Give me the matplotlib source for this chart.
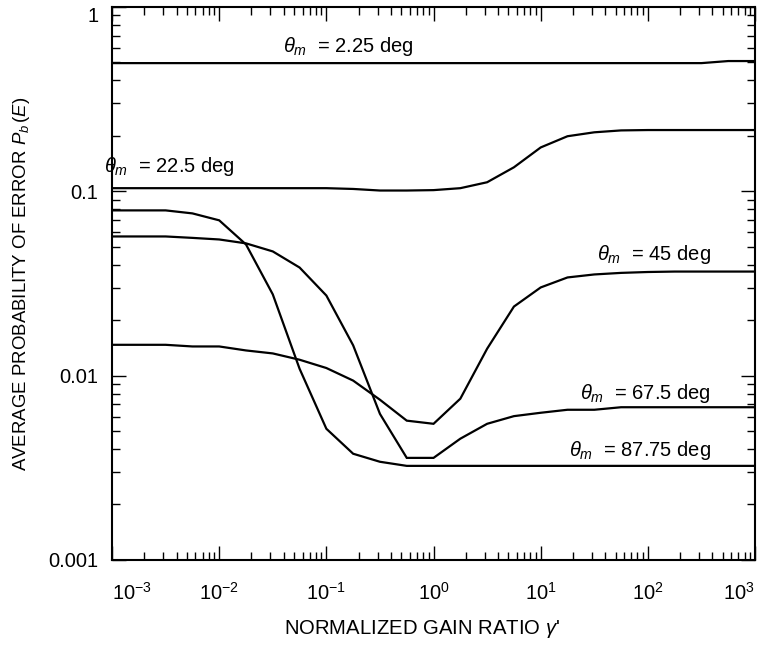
import numpy as np
import matplotlib
matplotlib.use("Agg")
import matplotlib.pyplot as plt
from matplotlib.ticker import LogLocator, FixedLocator, NullFormatter

plt.rcParams['font.family'] = ['Liberation Sans', 'DejaVu Sans']
plt.rcParams['mathtext.fontset'] = 'custom'
plt.rcParams['mathtext.rm'] = 'Liberation Sans'
plt.rcParams['mathtext.it'] = 'Liberation Sans:italic'
plt.rcParams['mathtext.bf'] = 'Liberation Sans:bold'

# ------------------------------------------------------------
# gain ratio grid: quarter-decade steps from 1e-3 to 1e3
# ------------------------------------------------------------
gain_exp = np.arange(-3.0, 3.01, 0.25)
gain_ratio = 10.0 ** gain_exp

pe_2_25 = [0.496, 0.496, 0.496, 0.496, 0.496, 0.496, 0.496, 0.496, 0.496,
           0.496, 0.496, 0.496, 0.496, 0.496, 0.496, 0.496, 0.496, 0.496,
           0.496, 0.496, 0.496, 0.496, 0.496, 0.509, 0.509]

pe_22_5 = [0.104, 0.104, 0.104, 0.104, 0.104, 0.104, 0.104, 0.104, 0.104,
           0.103, 0.101, 0.101, 0.1015, 0.104, 0.112, 0.135, 0.173, 0.199,
           0.209, 0.214, 0.215, 0.215, 0.215, 0.215, 0.215]

pe_45 = [0.0147, 0.0147, 0.0147, 0.0144, 0.0144, 0.0137, 0.0132, 0.0122,
         0.0110, 0.0094, 0.0074, 0.0057, 0.00548, 0.0075, 0.0140, 0.0237,
         0.0301, 0.0341, 0.0354, 0.0361, 0.0365, 0.0367, 0.0367, 0.0367,
         0.0367]

pe_67_5 = [0.0569, 0.0569, 0.0569, 0.0559, 0.0548, 0.0522, 0.0472, 0.0386,
           0.0272, 0.0146, 0.0062, 0.00358, 0.00358, 0.00455, 0.00548,
           0.00603, 0.00629, 0.00653, 0.00653, 0.00674, 0.00674, 0.00674,
           0.00674, 0.00674, 0.00674]

pe_87_75 = [0.0788, 0.0788, 0.0788, 0.0759, 0.0696, 0.0515, 0.0276, 0.0109,
            0.00515, 0.00377, 0.00341, 0.00324, 0.00324, 0.00324, 0.00324,
            0.00324, 0.00324, 0.00324, 0.00324, 0.00324, 0.00324, 0.00324,
            0.00324, 0.00324, 0.00324]

x_ticks = [1e-3, 1e-2, 1e-1, 1e0, 1e1, 1e2, 1e3]
x_tick_labels = [r'$10^{-3}$', r'$10^{-2}$', r'$10^{-1}$', r'$10^{0}$',
                 r'$10^{1}$', r'$10^{2}$', r'$10^{3}$']
y_ticks = [1e-3, 1e-2, 1e-1, 1.0]
y_tick_labels = ['0.001', '0.01', '0.1', '1']

fig = plt.figure(figsize=(7.59, 6.47), dpi=100)
ax = fig.add_axes([0.1476, 0.1345, 0.8472, 0.8547])

for pe in (pe_2_25, pe_22_5, pe_45, pe_67_5, pe_87_75):
    ax.plot(gain_ratio, pe, color='black', lw=1.6, solid_joinstyle='miter')

ax.set_xscale('log')
ax.set_yscale('log')
ax.set_xlim(1e-3, 1e3)
ax.set_ylim(1e-3, 1.0)

ax.xaxis.set_major_locator(FixedLocator(x_ticks))
ax.set_xticklabels(x_tick_labels)
ax.xaxis.set_minor_locator(LogLocator(base=10, subs=np.arange(2, 10), numticks=20))
ax.xaxis.set_minor_formatter(NullFormatter())
ax.yaxis.set_major_locator(FixedLocator(y_ticks))
ax.set_yticklabels(y_tick_labels)
ax.yaxis.set_minor_locator(LogLocator(base=10, subs=np.arange(2, 10), numticks=20))
ax.yaxis.set_minor_formatter(NullFormatter())

ax.tick_params(which='both', direction='in', top=True, right=True,
               labelsize=14.5, width=1.0)
ax.tick_params(which='major', length=10)
ax.tick_params(which='minor', length=5.8)
ax.tick_params(axis='x', which='major', pad=16)
ax.tick_params(axis='y', which='major', pad=10)

# keep the end labels inside the figure
xl = ax.get_xticklabels()
xl[0].set_horizontalalignment('left')
xl[-1].set_horizontalalignment('right')
yl = ax.get_yticklabels()
yl[-1].set_verticalalignment('top')

for s in ax.spines.values():
    s.set_linewidth(1.5)

ax.set_xlabel("NORMALIZED GAIN RATIO $\\gamma$'", fontsize=14.6, labelpad=11)
ax.xaxis.set_label_coords(0.482, -0.105)
ax.set_ylabel('AVERAGE PROBABILITY OF ERROR $P_b\\,(E)$', fontsize=13.4)
ax.yaxis.set_label_coords(-0.125, 0.5)

lbl = dict(fontsize=14.5, color='black', va='baseline')
ax.text(0.0396, 0.569, r'$\theta_m$  = 2.25 deg', ha='left', **lbl)
ax.text(0.00085, 0.128, r'$\theta_m$  = 22.5 deg', ha='left', **lbl)
ax.text(388, 0.0422, r'$\theta_m$  = 45 deg', ha='right', **lbl)
ax.text(388, 0.0075, r'$\theta_m$  = 67.5 deg', ha='right', **lbl)
ax.text(388, 0.00367, r'$\theta_m$  = 87.75 deg', ha='right', **lbl)

fig.savefig('out.png', dpi=100)
